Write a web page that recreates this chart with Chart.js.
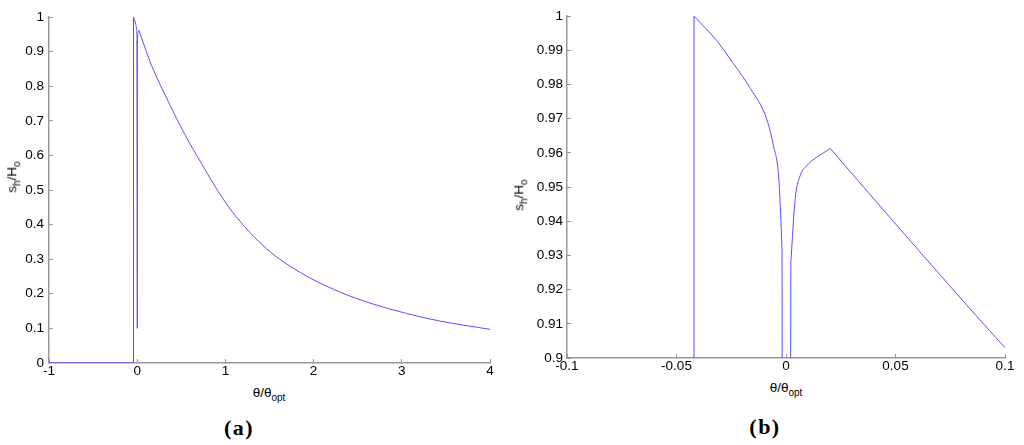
<!DOCTYPE html>
<html>
<head>
<meta charset="utf-8">
<script src="https://cdn.jsdelivr.net/npm/chart.js@4"></script>
<style>
  html, body { margin:0; padding:0; background:#fff; }
  body { width:1024px; height:445px; position:relative; overflow:hidden; font-family:"Liberation Sans", Arial, sans-serif; }
  canvas { position:absolute; top:0; }
  .lbl { position:absolute; white-space:nowrap; font-size:13.5px; color:#000; line-height:1; }
  .lbl sub { font-size:10px; vertical-align:-4px; line-height:0; }
  .cap { position:absolute; white-space:nowrap; font-family:"Liberation Serif", "Times New Roman", serif; font-weight:bold; font-size:22px; letter-spacing:1.5px; transform:translate(-50%,-50%); line-height:1; }
</style>
</head>
<body>
<canvas id="ca" width="510" height="380" style="left:0px"></canvas>
<canvas id="cb" width="514" height="380" style="left:510px"></canvas>

<div class="lbl" style="left:269px; top:386px; transform:translateX(-50%);">θ/θ<sub>opt</sub></div>
<div class="lbl" style="left:12px; top:177px; transform:translate(-50%,-50%) rotate(-90deg);">s<sub>h</sub>/H<sub>o</sub></div>
<div class="lbl" style="left:786px; top:381px; transform:translateX(-50%);">θ/θ<sub>opt</sub></div>
<div class="lbl" style="left:519px; top:195px; transform:translate(-50%,-50%) rotate(-90deg);">s<sub>h</sub>/H<sub>o</sub></div>
<div class="cap" style="left:239px; top:428px;">(a)</div>
<div class="cap" style="left:765px; top:427px;">(b)</div>

<script>
// ---- data ----
const theta = [-1, -0.042, -0.042, -0.0316, -0.0239, -0.0163, -0.0087, -0.0057, -0.0034, -0.0023, -0.0018, 0, 0.0022, 0.0042, 0.0065, 0.0088, 0.0202, 0.0491, 0.1, 0.163, 0.352, 0.541, 0.73, 0.918, 1.108, 1.467, 1.845, 2.297, 2.676, 3.054, 3.432, 4.0];
const sRatio = [0, 0, 1.0, 0.9928, 0.986, 0.9789, 0.9697, 0.962, 0.9534, 0.94, 0.931, 0.1, 0.928, 0.9466, 0.9534, 0.9558, 0.9613, 0.9399, 0.903, 0.860, 0.756, 0.660, 0.576, 0.496, 0.427, 0.330, 0.262, 0.205, 0.170, 0.143, 0.121, 0.097];

// pieces of the curve: [first index, last index, smooth?]
const pieceStart  = [0, 2, 10, 12, 16];
const pieceEnd    = [2, 10, 12, 16, 31];
const pieceSmooth = [false, true, false, true, true];

const xTicksA = [-1, 0, 1, 2, 3, 4];
const yTicksA = [0, 0.1, 0.2, 0.3, 0.4, 0.5, 0.6, 0.7, 0.8, 0.9, 1];
const xTicksB = [-0.1, -0.05, 0, 0.05, 0.1];
const yTicksB = [0.9, 0.91, 0.92, 0.93, 0.94, 0.95, 0.96, 0.97, 0.98, 0.99, 1];

const points = theta.map((t, i) => ({ x: t, y: sRatio[i] }));

const LINE = '#5252ff';
const AXIS = '#999999';
const FONT = { family: '"Liberation Sans", Arial, sans-serif', size: 13.5 };

function datasets() {
  return pieceStart.map((s, k) => ({
    data: points.slice(s, pieceEnd[k] + 1),
    borderColor: LINE,
    borderWidth: 1,
    pointRadius: 0,
    fill: false,
    tension: pieceSmooth[k] ? 0.4 : 0,
    cubicInterpolationMode: pieceSmooth[k] ? 'monotone' : 'default'
  }));
}

function makeScale(opts) {
  return {
    type: 'linear',
    position: opts.position,
    min: opts.min,
    max: opts.max,
    afterBuildTicks: s => { s.ticks = opts.ticks.map(v => ({ value: v })); },
    afterFit: s => { if (opts.position === 'left') s.width = opts.size; else s.height = opts.size; },
    ticks: {
      callback: v => String(v),
      color: '#000',
      font: FONT,
      padding: opts.padding,
      autoSkip: false,
      maxRotation: 0,
      minRotation: 0
    },
    grid: { drawOnChartArea: false, drawTicks: true, tickLength: -4, color: AXIS, lineWidth: 1 },
    border: { display: true, color: AXIS, width: 1.5 }
  };
}

function makeChart(id, cfg) {
  return new Chart(document.getElementById(id), {
    type: 'line',
    data: { datasets: datasets() },
    options: {
      responsive: false,
      animation: false,
      devicePixelRatio: 1,
      layout: { padding: cfg.padding },
      plugins: { legend: { display: false }, tooltip: { enabled: false } },
      scales: {
        x: makeScale({ position: 'bottom', min: cfg.xmin, max: cfg.xmax, ticks: cfg.xticks, size: cfg.xh, padding: 4 }),
        y: makeScale({ position: 'left', min: cfg.ymin, max: cfg.ymax, ticks: cfg.yticks, size: cfg.yw, padding: cfg.ypad })
      }
    }
  });
}

makeChart('ca', { xmin: -1, xmax: 4, ymin: 0, ymax: 1, xticks: xTicksA, yticks: yTicksA,
  padding: { left: 0, right: 20, top: 15, bottom: 0 }, xh: 16, yw: 49, ypad: 9 });
makeChart('cb', { xmin: -0.1, xmax: 0.1, ymin: 0.9, ymax: 1, xticks: xTicksB, yticks: yTicksB,
  padding: { left: 0, right: 19, top: 12, bottom: 0 }, xh: 22, yw: 57, ypad: 8 });
</script>
</body>
</html>
